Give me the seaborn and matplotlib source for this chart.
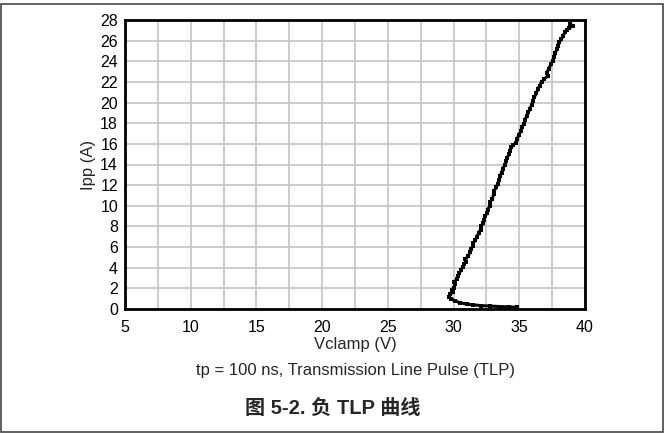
import matplotlib
matplotlib.use("Agg")
import matplotlib.pyplot as plt
import seaborn as sns
import pandas as pd
from matplotlib.patches import Rectangle

# Data (Vclamp in V, Ipp in A)
vclamp = [34.80, 34.20, 33.50, 32.80, 32.10, 31.50, 31.00, 30.50, 30.10, 29.80,
          29.65, 29.75, 29.95, 29.85, 30.00, 30.10, 30.05, 30.25, 30.35, 30.45,
          30.55, 30.70, 30.80, 30.95, 30.90, 31.10, 31.25, 31.35, 31.45, 31.50,
          31.65, 31.80, 31.90, 32.05, 32.10, 32.25, 32.30, 32.40, 32.55, 32.60,
          32.75, 32.80, 32.95, 33.05, 33.10, 33.25, 33.35, 33.45, 33.55, 33.65,
          33.75, 33.90, 34.00, 34.10, 34.20, 34.30, 34.40, 34.55, 34.75, 34.85,
          34.95, 35.10, 35.20, 35.35, 35.45, 35.55, 35.70, 35.80, 35.95, 36.05,
          36.15, 36.30, 36.40, 36.55, 36.70, 36.90, 37.20, 37.10, 37.25, 37.40,
          37.55, 37.65, 37.75, 37.85, 37.95, 38.05, 38.20, 38.35, 38.45, 38.60,
          38.75, 39.10, 38.85]
ipp = [0.18, 0.20, 0.24, 0.28, 0.33, 0.40, 0.48, 0.60, 0.78, 1.00,
       1.20, 1.45, 1.60, 1.80, 2.05, 2.40, 2.60, 2.90, 3.20, 3.50,
       3.75, 4.05, 4.40, 4.60, 4.80, 5.10, 5.50, 5.80, 6.10, 6.35,
       6.70, 7.00, 7.35, 7.70, 8.00, 8.30, 8.65, 9.00, 9.30, 9.60,
       10.00, 10.40, 10.70, 11.10, 11.45, 11.80, 12.10, 12.50, 12.90, 13.20,
       13.60, 13.95, 14.30, 14.65, 15.00, 15.35, 15.70, 15.90, 16.10, 16.50,
       16.85, 17.20, 17.60, 17.95, 18.30, 18.70, 19.05, 19.40, 19.80, 20.20,
       20.55, 20.90, 21.30, 21.65, 22.00, 22.30, 22.60, 22.90, 23.30, 23.70,
       24.05, 24.40, 24.80, 25.15, 25.50, 25.85, 26.15, 26.45, 26.80, 27.05,
       27.20, 27.45, 27.60]

x_ticks = [5, 10, 15, 20, 25, 30, 35, 40]
y_ticks = list(range(0, 29, 2))
x_label = "Vclamp (V)"
y_label = "Ipp (A)"
note = "tp = 100 ns, Transmission Line Pulse (TLP)"
caption = "图 5-2. 负 TLP 曲线"

df = pd.DataFrame({"Vclamp": vclamp, "Ipp": ipp})

sns.set_style("white")
plt.rcParams['font.family'] = ['Liberation Sans', 'Noto Sans CJK SC', 'DejaVu Sans']

fig = plt.figure(figsize=(6.64, 4.33), dpi=100)
ax = fig.add_axes([125/664, 1-309/433, 460/664, 289/433])

sns.lineplot(data=df, x="Vclamp", y="Ipp", sort=False, estimator=None,
             color="black", linewidth=2.2, marker="s", markersize=2.6,
             markeredgewidth=0, ax=ax, zorder=3)

ax.set_xlim(5, 40)
ax.set_ylim(0, 28)
ax.set_xticks(x_ticks)
ax.set_xticks([7.5 + 5*i for i in range(7)], minor=True)
ax.set_yticks(y_ticks)
ax.grid(True, which="both", color="#c4c4c4", linewidth=1.2)
ax.tick_params(which="both", length=0, labelsize=11.5, colors="black")
ax.tick_params(axis="x", pad=8)
ax.tick_params(axis="y", pad=5)
for s in ax.spines.values():
    s.set_visible(True)
    s.set_color("black")
    s.set_linewidth(2.0)
ax.set_xlabel(x_label, fontsize=12, labelpad=1)
ax.set_ylabel(y_label, fontsize=12, labelpad=3)

fig.text(355/664, 1-370/433, note, ha="center", va="center", fontsize=12)
fig.text(333/664, 1-408/433, caption, ha="center", va="center", fontsize=14.5,
         fontweight="bold")

fig.patches.append(Rectangle((0.5/664, 1-431.5/433), 662.5/664, 428/433,
                             transform=fig.transFigure, fill=False,
                             edgecolor="#555555", linewidth=1.3))

fig.savefig("out.png", dpi=100)
